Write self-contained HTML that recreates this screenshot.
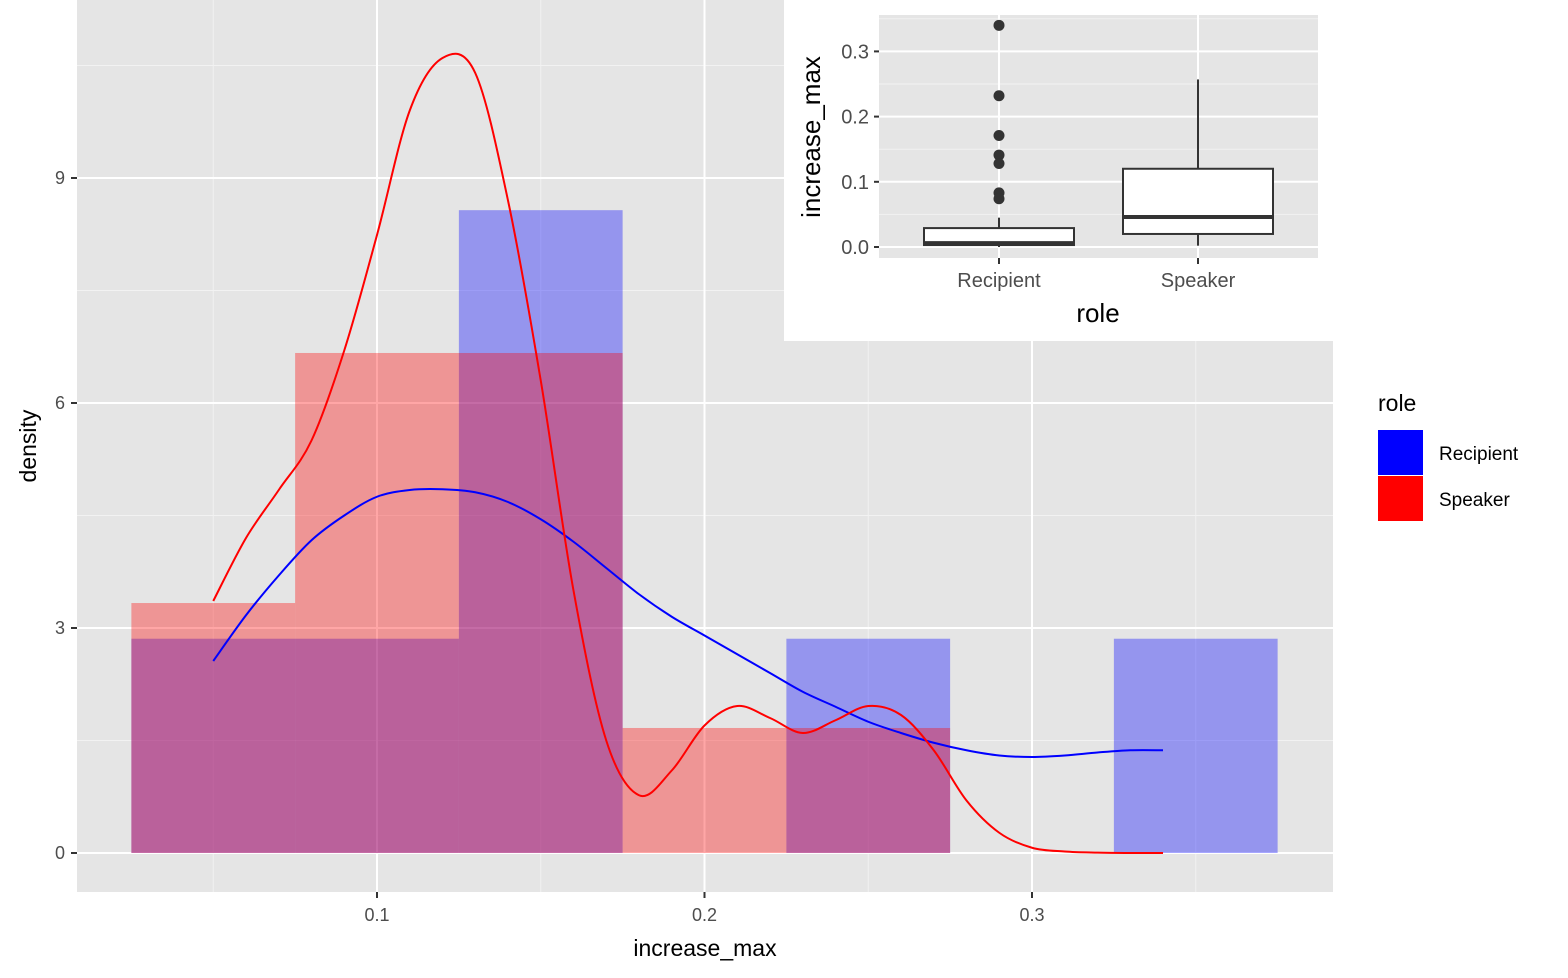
<!DOCTYPE html>
<html><head><meta charset="utf-8"><style>
body{margin:0;background:#fff;}
svg{display:block;font-family:"Liberation Sans",Arial,sans-serif;}
</style></head><body>
<svg id="chart" width="1568" height="978" viewBox="0 0 1568 978"></svg>
<script>
const binStarts=[0.025,0.075,0.125,0.175,0.225,0.275,0.325];
const recipientHist=[2.857,2.857,8.571,0,2.857,0,2.857];
const speakerHist=[3.333,6.667,6.667,1.667,1.667,0,0];
const densX=[0.05,0.06,0.07,0.08,0.09,0.10,0.11,0.12,0.13,0.14,0.15,0.16,0.17,0.18,0.19,0.20,0.21,0.22,0.23,0.24,0.25,0.26,0.27,0.28,0.29,0.30,0.31,0.32,0.33,0.34];
const speakerDens=[3.36,4.2,4.84,5.5,6.7,8.24,9.9,10.6,10.4,8.7,6.3,3.5,1.5,0.77,1.1,1.7,1.96,1.8,1.6,1.77,1.96,1.84,1.37,0.7,0.27,0.07,0.02,0.005,0,0];
const recipientDens=[2.56,3.17,3.7,4.17,4.5,4.75,4.84,4.85,4.81,4.68,4.45,4.15,3.8,3.45,3.15,2.9,2.65,2.4,2.15,1.95,1.75,1.6,1.47,1.37,1.3,1.28,1.3,1.34,1.37,1.37];
const xTicks=[0.1,0.2,0.3];
const yTicks=[0,3,6,9];
const boxCats=["Recipient","Speaker"];
const boxStats=[[0,0.003,0.006,0.029,0.045],[0.002,0.02,0.046,0.12,0.257]];
const outliers=[[0.34,0.232,0.171,0.141,0.128,0.083,0.074],[]];
const insetTicks=[0.0,0.1,0.2,0.3];

const NS="http://www.w3.org/2000/svg";
const svg=document.getElementById('chart');
function el(t,a,p){const e=document.createElementNS(NS,t);for(const k in a)e.setAttribute(k,a[k]);(p||svg).appendChild(e);return e;}
const X=v=>377+(v-0.1)*3275;
const Y=v=>853-v*75;
const bg=el('rect',{x:77,y:0,width:1256,height:892,fill:'#e5e5e5'});

for(let v=0.05;v<0.4;v+=0.1){el('line',{x1:X(v),x2:X(v),y1:0,y2:892,stroke:'#f2f2f2','stroke-width':1});}
for(let v=1.5;v<12;v+=3){el('line',{x1:77,x2:1333,y1:Y(v),y2:Y(v),stroke:'#f2f2f2','stroke-width':1});}
xTicks.forEach(v=>{el('line',{x1:X(v),x2:X(v),y1:0,y2:892,stroke:'#fff','stroke-width':2});
 el('line',{x1:X(v),x2:X(v),y1:892,y2:898,stroke:'#333','stroke-width':2});
 const t=el('text',{x:X(v),y:921,'text-anchor':'middle','font-size':18,fill:'#4d4d4d'});t.textContent=v.toFixed(1);
 });
yTicks.forEach(v=>{el('line',{x1:77,x2:1333,y1:Y(v),y2:Y(v),stroke:'#fff','stroke-width':2});
 el('line',{x1:71,x2:77,y1:Y(v),y2:Y(v),stroke:'#333','stroke-width':2});
 const t=el('text',{x:65,y:Y(v)+6,'text-anchor':'end','font-size':18,fill:'#4d4d4d'});t.textContent=v;
 });
binStarts.forEach((b,i)=>{
 if(recipientHist[i]>0){const r=el('rect',{x:X(b),y:Y(recipientHist[i]),width:X(b+0.05)-X(b),height:Y(0)-Y(recipientHist[i]),fill:'rgba(0,0,255,0.35)'});
  }
});
binStarts.forEach((b,i)=>{
 if(speakerHist[i]>0){const r=el('rect',{x:X(b),y:Y(speakerHist[i]),width:X(b+0.05)-X(b),height:Y(0)-Y(speakerHist[i]),fill:'rgba(255,0,0,0.35)'});
  }
});
function smooth(xs,ys){let p=xs.map((x,i)=>[X(x),Y(ys[i])]);let d='M'+p[0][0]+','+p[0][1];
 for(let i=0;i<p.length-1;i++){const p0=p[Math.max(0,i-1)],p1=p[i],p2=p[i+1],p3=p[Math.min(p.length-1,i+2)];
  d+=' C'+(p1[0]+(p2[0]-p0[0])/6)+','+(p1[1]+(p2[1]-p0[1])/6)+' '+(p2[0]-(p3[0]-p1[0])/6)+','+(p2[1]-(p3[1]-p1[1])/6)+' '+p2[0]+','+p2[1];}
 return d;}
const bl=el('path',{d:smooth(densX,recipientDens),fill:'none',stroke:'#00f','stroke-width':2});

const rl=el('path',{d:smooth(densX,speakerDens),fill:'none',stroke:'#f00','stroke-width':2});

let t=el('text',{x:705,y:956,'text-anchor':'middle','font-size':23,fill:'#000'});t.textContent='increase_max';

t=el('text',{x:0,y:0,'text-anchor':'middle','font-size':23,fill:'#000',transform:'translate(36,446) rotate(-90)'});t.textContent='density';

const lg=el('g',{});
t=el('text',{x:1378,y:411,'font-size':23,fill:'#000'},lg);t.textContent='role';
[['Recipient','#00f',430],['Speaker','#f00',476]].forEach(([n,c,y])=>{
 const g=el('g',{},lg);
 el('rect',{x:1378,y:y,width:45,height:45,fill:c},g);
 const tt=el('text',{x:1439,y:y+30,'font-size':19,fill:'#000'},g);tt.textContent=n;});
const ins=el('g',{});
el('rect',{x:784,y:0,width:549,height:341,fill:'#fff'},ins);
el('rect',{x:879,y:15,width:439,height:243,fill:'#e5e5e5'},ins);
const IY=v=>247-v*652;
const IX=i=>999+i*199;
[0.05,0.15,0.25,0.35].forEach(v=>{if(IY(v)>15)el('line',{x1:879,x2:1318,y1:IY(v),y2:IY(v),stroke:'#f2f2f2','stroke-width':1},ins);});
insetTicks.forEach(v=>{el('line',{x1:879,x2:1318,y1:IY(v),y2:IY(v),stroke:'#fff','stroke-width':2},ins);
 el('line',{x1:874,x2:879,y1:IY(v),y2:IY(v),stroke:'#333','stroke-width':2},ins);
 const tt=el('text',{x:869,y:IY(v)+7,'text-anchor':'end','font-size':20,fill:'#4d4d4d'},ins);tt.textContent=v.toFixed(1);
 });
boxCats.forEach((c,i)=>{const cx=IX(i);
 el('line',{x1:cx,x2:cx,y1:15,y2:258,stroke:'#fff','stroke-width':2},ins);
 el('line',{x1:cx,x2:cx,y1:258,y2:264,stroke:'#333','stroke-width':2},ins);
 const tt=el('text',{x:cx,y:287,'text-anchor':'middle','font-size':20,fill:'#4d4d4d'},ins);tt.textContent=c;
 
 const s=boxStats[i];const g=el('g',{},ins);
 el('line',{x1:cx,x2:cx,y1:IY(s[4]),y2:IY(s[3]),stroke:'#333','stroke-width':2},g);
 el('line',{x1:cx,x2:cx,y1:IY(s[1]),y2:IY(s[0]),stroke:'#333','stroke-width':2},g);
 el('rect',{x:cx-75,y:IY(s[3]),width:150,height:IY(s[1])-IY(s[3]),fill:'#fff',stroke:'#333','stroke-width':2},g);
 el('line',{x1:cx-75,x2:cx+75,y1:IY(s[2]),y2:IY(s[2]),stroke:'#333','stroke-width':4},g);
 outliers[i].forEach(o=>{const d=el('circle',{cx:cx,cy:IY(o),r:5.5,fill:'#333'},g);
  });
});
t=el('text',{x:1098,y:322,'text-anchor':'middle','font-size':26,fill:'#000'},ins);t.textContent='role';

t=el('text',{x:0,y:0,'text-anchor':'middle','font-size':26,fill:'#000',transform:'translate(820,137) rotate(-90)'},ins);t.textContent='increase_max';

</script>
</body></html>
